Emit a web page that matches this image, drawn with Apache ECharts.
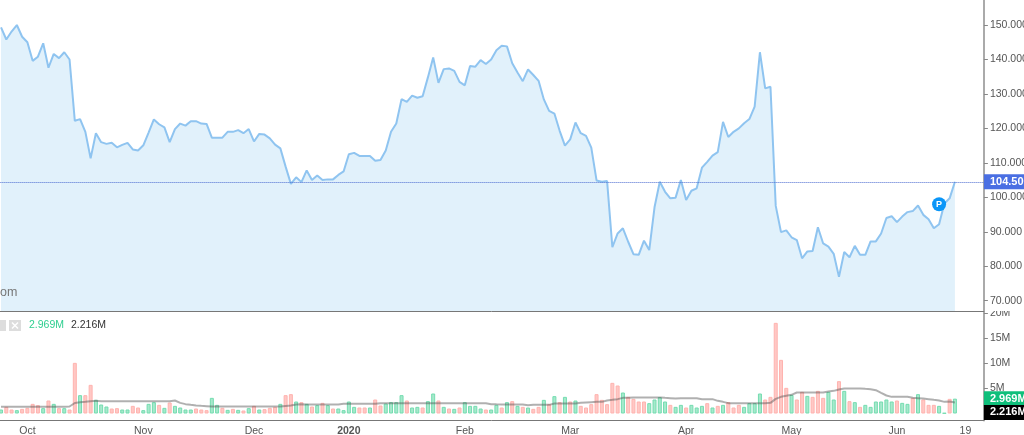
<!DOCTYPE html>
<html lang="en">
<head>
<meta charset="utf-8">
<title>Price and volume</title>
<script src="https://cdn.jsdelivr.net/npm/echarts@6/dist/echarts.min.js"></script>
<style>
    html, body { margin: 0; padding: 0; background: #fff; }
    #chart { width: 1024px; height: 435px; }
</style>
</head>
<body>
<div id="chart"></div>
<script>
    // one value per trading day
    const prices = [
        149.3, 145.8, 148.1, 150, 146.6, 145, 139.6, 140.8, 144.7, 137.6,
        141.6, 140.4, 142.1, 140, 122.2, 122.7, 119, 111.3, 118.6, 116,
        115.5, 115.8, 114.5, 115.2, 115.8, 113.9, 113.6, 115.1, 118.8, 122.6,
        121.2, 120.3, 116, 119.8, 121.4, 120.8, 122.1, 122.1, 121.4, 121.3,
        117.3, 117.3, 117.3, 119, 119, 119.5, 118.6, 119.8, 116.2, 118.4,
        118.2, 117.1, 115.3, 114.2, 108.9, 103.9, 105.8, 104.4, 107.8, 105,
        106.3, 105, 105.2, 105.2, 106.5,
        107.5, 112.5, 112.9, 112, 112, 112, 110.6, 110.8, 113.6, 119,
        121.4, 128.5, 127.7, 129.5, 128.9, 129.3, 134.8, 140.6, 133.2, 137.2,
        137.4, 136.7, 133.5, 132.5, 138.1, 137.9, 139.8, 138.7, 140, 142.7,
        144, 143.8, 138.9, 136.2, 133.7, 137.1, 135.5, 133.8, 128.4, 125.1,
        124.3, 119.3, 115, 116.8, 121.7, 118.6, 117.8, 114.4, 104.9, 104.5, 104.7,
        85.5, 89.5, 91, 87.1, 83.5, 83.3, 87.4, 84.7, 97.1, 104.5,
        101.6, 99.7, 99.9, 105,
        99.2, 101.9, 102.6, 108.6, 110.3, 112.1, 113.1, 121.9, 117.5, 119,
        120, 121.5, 122.7, 126.3, 142.1, 131.6, 132.1,
        97.5, 89.9, 90.4, 88.4, 87.6, 82.3, 84.3, 84.4, 91.3, 86.6,
        85.7, 83.6, 76.9, 84.1, 82.6, 85.9, 83.3, 83.3, 87.2, 87.2,
        89.5, 94, 94.5, 92.8, 94.4, 95.7, 96, 97.6, 94.9, 93.6,
        91, 92.2, 98.2, 99.7, 104.5
    ];
    // millions of shares
    const volumes = [
        0.8, 1.33, 0.8, 0.67, 0.93, 1.13, 1.93, 1.67, 1.07, 2.6,
        1.93, 1.07, 1.07, 0.8, 10.13, 3.67, 3.67, 5.73, 2.73, 1.8,
        1.4, 1, 1.07, 0.8, 0.8, 1.53, 1.2, 0.67, 1.93, 2.27,
        1.73, 1.13, 2.2, 1.53, 1.2, 0.8, 0.8, 1, 0.8, 0.67,
        3.13, 1.73, 1.13, 0.73, 0.93, 0.73, 0.6, 1.07, 1.53, 0.8,
        0.87, 1.13, 1.33, 1.93, 3.67, 3.87, 2.4, 2.27, 1.93, 1.4,
        1.67, 2.13, 1.67, 1, 1,
        0.67, 2.4, 1.33, 1.2, 1.2, 1.2, 2.8, 1.6, 2, 2.27,
        2.27, 3.67, 2.6, 1.2, 1.33, 1.2, 2.47, 4, 2.6, 1.33,
        1, 0.93, 1.2, 2.27, 1.53, 1.53, 1, 0.8, 0.8, 1.73,
        1.2, 2.27, 2.47, 1.53, 1.33, 1.2, 0.93, 1.33, 2.73, 1.87,
        3.47, 2.27, 3.33, 2.4, 2.6, 1.53, 1.2, 1.87, 3.87, 2.73,
        1.87, 6.13, 5.6, 4.2, 3.33, 2.93, 2.4, 2.4, 2.07, 2.8,
        3.27, 2.4, 1.73, 1.33,
        1.73, 1.2, 1.73, 1.2, 1.53, 2.07, 1.2, 1.53, 1.73, 2.27,
        1.2, 1.73, 1.33, 2.07, 2.07, 4, 2.8, 3.33, 18.13, 10.73,
        5.13, 3.73, 2.8, 4.33, 3.53, 3.33, 4.53, 3.13, 4.33, 2.8,
        6.47, 4.53, 2.47, 2.27, 1.33, 1.73, 1.33, 2.4, 2.4, 2.8,
        2.4, 2.6, 2.13, 1.93, 3.13, 3.87, 2.8, 1.73, 1.73, 1.53,
        0.1, 2.93, 2.969
    ];
    // bar colour per day: r = red, g = green
    const volumeColors = (
        'g r r g r r r r g r g r g r r g r r g g g r r g g r r g g g r g r g g g g r r r ' +
        'g g r g r g r g r g r r r g r r g r g r g r g r g ' +
        'g g g r r g r r g g g g r g g r g g r g r g r g g g g r g g r g r g r g r r g r ' +
        'g r g r g r r r r r r r r g r r r r g g g g r g ' +
        'g r g g g r g r g r r r g g g g r r r r r g r r g r r r g g r g r g r g g g g g ' +
        'g r g g r g r r r g g r g'
    ).split(' ');
    const volumeAverage = [
        1.33, 1.33, 1.33, 1.33, 1.33, 1.33, 1.33, 1.33, 1.33, 1.33,
        1.33, 1.33, 1.33, 1.4, 2.1, 2.27, 2.33, 2.47, 2.53, 2.47,
        2.47, 2.47, 2.47, 2.47, 2.47, 2.47, 2.47, 2.47, 2.47, 2.47,
        2.47, 2.47, 2.47, 2.6, 2.13, 1.87, 1.73, 1.6, 1.53, 1.47,
        1.4, 1.4, 1.4, 1.4, 1.4, 1.4, 1.4, 1.4, 1.4, 1.4,
        1.4, 1.4, 1.4, 1.4, 1.5, 1.6, 1.8, 1.87, 1.8, 1.8,
        1.8, 1.8, 1.8, 1.8, 1.8,
        1.93, 1.93, 1.93, 1.93, 1.93, 1.93, 1.93, 2.07, 2.07, 2.07,
        2.07, 2.07, 2.07, 2.07, 2.07, 2.07, 2.07, 2.07, 2.07, 2.07,
        2.07, 2.07, 2.07, 2.07, 2.07, 2.07, 2.07, 2.07, 1.87, 1.83,
        1.8, 1.8, 1.8, 1.8, 1.8, 1.67, 1.73, 1.73, 1.73, 1.73,
        2, 2, 2, 2, 2, 2.13, 2.2, 2.27, 2.33, 2.33,
        2.6, 2.73, 2.87, 3.13, 3.17, 3.2, 3.2, 3.2, 3.2, 3.2,
        3.2, 3.13, 3.07, 3,
        3.07, 3.07, 3.07, 3.07, 2.87, 2.87, 2.87, 2.53, 2.33, 2.07,
        2.07, 2.07, 2.07, 2.07, 2.07, 2.07, 2.07, 2.13, 2.93, 3.33,
        3.53, 3.73, 4.2, 4.2, 4.2, 4.2, 4.2, 4.2, 4.4, 4.53,
        4.8, 5, 5, 5, 5, 4.93, 4.87, 4.67, 4.13, 3.6,
        3.33, 3.33, 3.33, 3.33, 3.13, 3.07, 3, 2.87, 2.73, 2.6,
        2.33, 2.4, 2.216
    ];

    // x axis has a few empty days after the last bar
    const dayCount = 187;
    const tickIndex = [5, 27, 48, 66, 88, 108, 130, 150, 170, 183];
    const tickNames = ['Oct', 'Nov', 'Dec', '2020', 'Feb', 'Mar', 'Apr', 'May', 'Jun', '19'];
    const priceTicks = [70, 80, 90, 100, 110, 120, 130, 140, 150];
    const volumeTicks = [5, 10, 15, 20];
    const lastPrice = 104.5;
    const lastVolume = 2.969;
    const lastAverage = 2.216;
    const pMarker = [178, 98];

    const days = [];
    for (let i = 0; i < dayCount; i++) {
        days.push(String(i));
    }

    const isTick = function (index) {
        return tickIndex.indexOf(index) >= 0;
    };
    const labelFont = 'Liberation Sans, Arial, sans-serif';
    const labelColor = '#555';

    function priceTag(value, text, color, offset) {
        return {
            yAxis: value,
            label: {
                show: true,
                position: 'end',
                distance: 0,
                offset: [0, offset],
                formatter: text,
                color: '#fff',
                backgroundColor: color,
                fontFamily: labelFont,
                fontSize: 11,
                fontWeight: 'bold',
                padding: [2, 8, 2, 6]
            }
        };
    }

    function yAxisBase(gridIndex, min, max, ticks, format) {
        return {
            type: 'value',
            gridIndex: gridIndex,
            position: 'right',
            min: min,
            max: max,
            splitLine: { show: false },
            axisLine: { show: true, lineStyle: { color: '#aaa', width: 2 } },
            axisTick: { show: true, length: 4, customValues: ticks, lineStyle: { color: '#888' } },
            axisLabel: {
                customValues: ticks,
                formatter: format,
                margin: 6,
                color: labelColor,
                fontFamily: labelFont,
                fontSize: 10.5,
                showMinLabel: true,
                showMaxLabel: true
            }
        };
    }

    const option = {
        animation: false,
        backgroundColor: '#fff',
        grid: [
            { left: -1.6, width: 985.5, top: 0, height: 311, outerBoundsMode: 'none' },
            { left: -1.6, width: 985.5, top: 312, height: 108.5, outerBoundsMode: 'none' }
        ],
        xAxis: [
            {
                type: 'category',
                gridIndex: 0,
                data: days,
                axisLine: { lineStyle: { color: '#777', width: 1 } },
                axisTick: { show: false },
                axisLabel: { show: false },
                splitLine: { show: false }
            },
            {
                type: 'category',
                gridIndex: 1,
                data: days,
                axisLine: { onZero: false, lineStyle: { color: '#777', width: 1 } },
                axisTick: { alignWithLabel: true, length: 4, interval: isTick, lineStyle: { color: '#777' } },
                axisLabel: {
                    interval: isTick,
                    margin: 5,
                    color: labelColor,
                    fontFamily: labelFont,
                    fontSize: 10.5,
                    formatter: function (value) {
                        const name = tickNames[tickIndex.indexOf(Number(value))];
                        return name === '2020' ? '{b|2020}' : name;
                    },
                    rich: { b: { fontWeight: 'bold', color: labelColor, fontFamily: labelFont, fontSize: 10.5 } }
                },
                splitLine: { show: false }
            }
        ],
        yAxis: [
            yAxisBase(0, 67, 157.26, priceTicks, function (v) { return v.toFixed(3); }),
            yAxisBase(1, -1.4, 20.3, volumeTicks, function (v) { return v + 'M'; })
        ],
        series: [
            {
                name: 'price',
                type: 'line',
                data: prices,
                showSymbol: false,
                symbol: 'none',
                lineStyle: { color: '#8fc4f0', width: 2 },
                areaStyle: { color: '#e1f1fb', opacity: 1 },
                markLine: {
                    silent: true,
                    symbol: 'none',
                    lineStyle: { color: '#4a6ad0', type: 'dotted', width: 1 },
                    data: [priceTag(lastPrice, '104.500', '#4a6fe3', 0)]
                },
                markPoint: {
                    silent: true,
                    data: [{
                        coord: pMarker,
                        symbol: 'circle',
                        symbolSize: 14,
                        itemStyle: { color: '#0a96f8' },
                        label: {
                            show: true,
                            formatter: 'P',
                            color: '#fff',
                            fontFamily: labelFont,
                            fontSize: 9,
                            fontWeight: 'bold'
                        }
                    }]
                }
            },
            {
                name: 'volume',
                type: 'bar',
                xAxisIndex: 1,
                yAxisIndex: 1,
                barWidth: 4,
                data: volumes.map(function (v, i) {
                    const up = volumeColors[i] === 'g';
                    return {
                        value: v,
                        itemStyle: {
                            color: up ? '#a6e9cc' : '#ffc8c5',
                            borderColor: up ? '#74dcb0' : '#ffb3af',
                            borderWidth: 1
                        }
                    };
                }),
                markLine: {
                    silent: true,
                    symbol: 'none',
                    lineStyle: { color: 'rgba(0, 0, 0, 0)', width: 0 },
                    data: [
                        priceTag(lastVolume, '2.969M', '#0fbf7b', 0),
                        priceTag(lastAverage, '2.216M', '#000', 10)
                    ]
                }
            },
            {
                name: 'volume average',
                type: 'line',
                xAxisIndex: 1,
                yAxisIndex: 1,
                data: volumeAverage,
                showSymbol: false,
                symbol: 'none',
                lineStyle: { color: 'rgba(80, 80, 80, 0.45)', width: 2 }
            }
        ],
        graphic: [
            // top of the 20M label is hidden by the price pane
            { type: 'rect', z: 100, shape: { x: 986, y: 305.5, width: 38, height: 5.5 }, style: { fill: '#fff' } },
            { type: 'text', z: 100, left: 0, top: 286, style: { text: 'om', fill: '#777', font: '12.5px ' + labelFont } },
            { type: 'rect', z: 100, shape: { x: -3, y: 320, width: 9, height: 11 }, style: { fill: '#ddd' } },
            { type: 'rect', z: 100, shape: { x: 9, y: 320, width: 12, height: 11 }, style: { fill: '#ddd' } },
            { type: 'line', z: 101, shape: { x1: 12, y1: 322.5, x2: 18, y2: 328.5 }, style: { stroke: '#fff', lineWidth: 1.5 } },
            { type: 'line', z: 101, shape: { x1: 18, y1: 322.5, x2: 12, y2: 328.5 }, style: { stroke: '#fff', lineWidth: 1.5 } },
            { type: 'text', z: 100, left: 29, top: 320, style: { text: '2.969M', fill: '#2fcf90', font: '10.5px ' + labelFont } },
            { type: 'text', z: 100, left: 71, top: 320, style: { text: '2.216M', fill: '#333', font: '10.5px ' + labelFont } }
        ]
    };

    const chart = echarts.init(document.getElementById('chart'), null, { renderer: 'canvas' });
    chart.setOption(option);
</script>
</body>
</html>
